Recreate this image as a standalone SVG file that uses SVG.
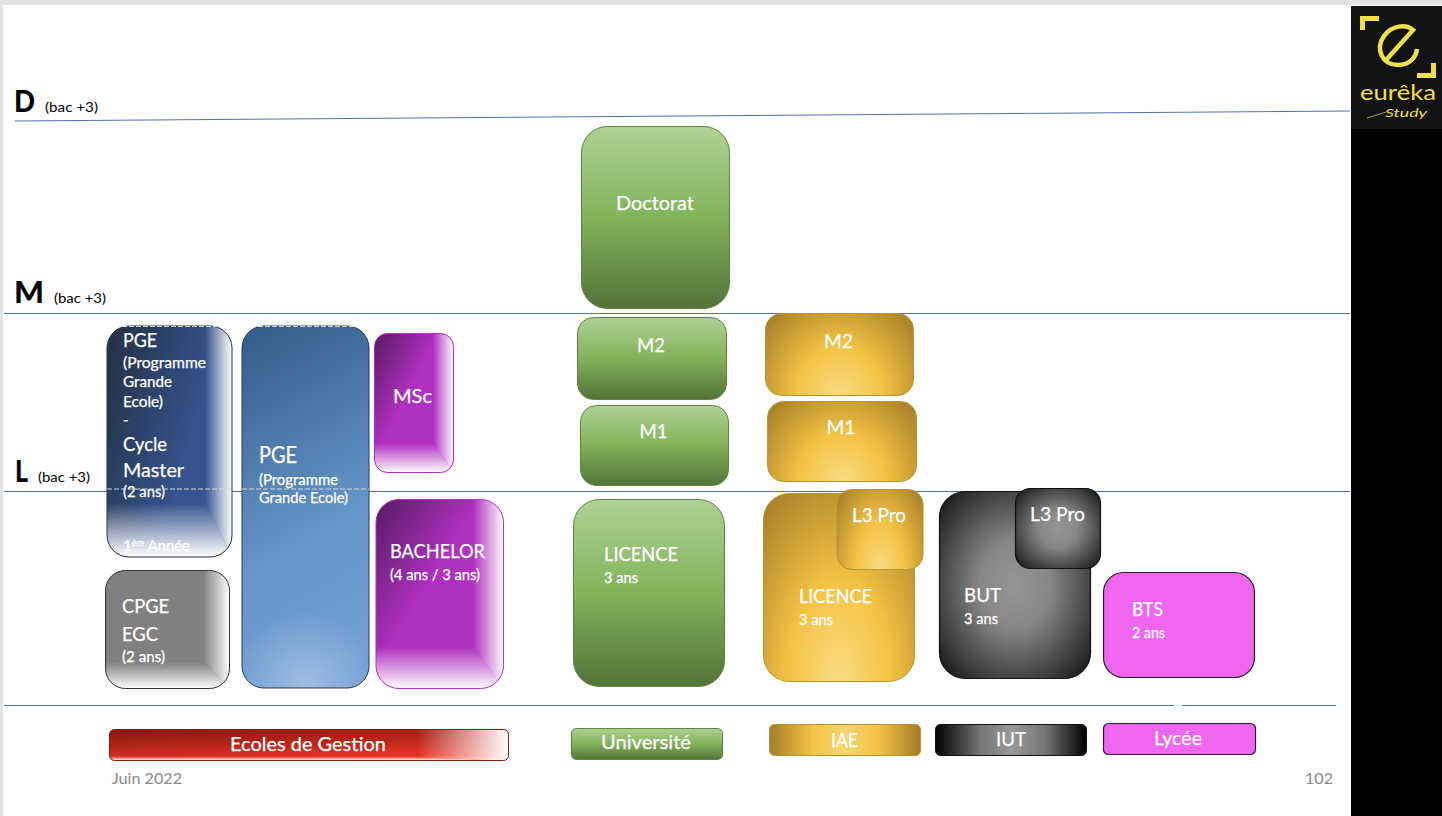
<svg xmlns="http://www.w3.org/2000/svg" width="1442" height="816" viewBox="0 0 1442 816">
<style>
text{font-family:Lato,"Open Sans","Liberation Sans",sans-serif;fill:#fff;stroke:#fff;stroke-width:.25px}
.k{fill:#000;stroke:none}
.b{font-size:31px;font-weight:900}
.s{font-size:14px}
.m{font-size:15px}
.f{font-size:16px;fill:#8a8a8a;stroke:none}
.y{fill:#f4df4b;stroke:none}
.rule{stroke:#5470ad;stroke-width:1;fill:none}
.dash{stroke:#cfdae8;stroke-width:1.2;stroke-dasharray:5 2;fill:none}
.gold{fill:url(#gold);stroke:#b8952f;stroke-width:1}
.goldw{fill:url(#goldw);stroke:#b8952f;stroke-width:1}
.green{fill:url(#green);stroke:#5f8440;stroke-width:1}
.grey{fill:url(#grey);stroke:#111;stroke-width:1.2}
.pink{fill:#ef67ee;stroke:#222;stroke-width:1.2}
.fr{fill:url(#fr)}
.fb{fill:url(#fb)}
</style>
<defs>
<linearGradient id="green" x1="0" y1="0" x2="0" y2="1"><stop offset="0" stop-color="#b0d196"/><stop offset=".48" stop-color="#84b45c"/><stop offset="1" stop-color="#547339"/></linearGradient>
<radialGradient id="gold" cx=".5" cy="1" r="1" gradientTransform="translate(.5 1) scale(.8 1.25) translate(-.5 -1)"><stop offset="0" stop-color="#f8dc82"/><stop offset=".42" stop-color="#f5c345"/><stop offset="1" stop-color="#a27c27"/></radialGradient>
<radialGradient id="goldw" cx=".5" cy="1" r="1" gradientTransform="translate(.5 1) scale(.68 1.4) translate(-.5 -1)"><stop offset="0" stop-color="#f8dc82"/><stop offset=".42" stop-color="#f5c345"/><stop offset="1" stop-color="#a27c27"/></radialGradient>
<radialGradient id="grey" cx=".5" cy=".5" r=".68"><stop offset="0" stop-color="#969696"/><stop offset=".35" stop-color="#868686"/><stop offset="1" stop-color="#161616"/></radialGradient>
<linearGradient id="iae" x1="0" y1="0" x2="1" y2="0"><stop offset="0" stop-color="#a27c27"/><stop offset=".28" stop-color="#f5c345"/><stop offset=".5" stop-color="#f7d670"/><stop offset=".72" stop-color="#f5c345"/><stop offset="1" stop-color="#a27c27"/></linearGradient>
<linearGradient id="iut" x1="0" y1="0" x2="1" y2="0"><stop offset="0" stop-color="#000"/><stop offset=".3" stop-color="#777"/><stop offset=".5" stop-color="#989898"/><stop offset=".72" stop-color="#777"/><stop offset="1" stop-color="#000"/></linearGradient>
<linearGradient id="pge2" x1=".35" y1="0" x2=".55" y2="1"><stop offset="0" stop-color="#38608f"/><stop offset=".6" stop-color="#6695c9"/><stop offset="1" stop-color="#74a0d4"/></linearGradient>
<radialGradient id="pge2h"><stop offset="0" stop-color="#a6c2e4" stop-opacity=".85"/><stop offset="1" stop-color="#a6c2e4" stop-opacity="0"/></radialGradient>
<linearGradient id="navy" x1="0" y1="0" x2=".75" y2=".4"><stop offset="0" stop-color="#242f42"/><stop offset="1" stop-color="#35548f"/></linearGradient>
<linearGradient id="purple" x1="0" y1="0" x2=".456" y2=".414"><stop offset="0" stop-color="#571a63"/><stop offset="1" stop-color="#b030c0"/></linearGradient>
<linearGradient id="red" x1="0" y1="0" x2="1" y2="0"><stop offset="0" stop-color="#8e1a10"/><stop offset=".72" stop-color="#e73323"/></linearGradient>
<linearGradient id="redv" x1="0" y1="0" x2="0" y2="1"><stop offset="0" stop-color="#7e150c" stop-opacity=".65"/><stop offset=".85" stop-color="#e73323" stop-opacity=".75"/><stop offset="1" stop-color="#f5a090" stop-opacity=".8"/></linearGradient>
<linearGradient id="fr" x1="0" y1="0" x2="1" y2="0"><stop offset="0" stop-color="#fff" stop-opacity="0"/><stop offset="1" stop-color="#fff"/></linearGradient>
<linearGradient id="fb" x1="0" y1="0" x2="0" y2="1"><stop offset="0" stop-color="#fff" stop-opacity="0"/><stop offset="1" stop-color="#fff"/></linearGradient>
<clipPath id="c1"><rect x="107" y="326" width="125" height="231" rx="22"/></clipPath>
<clipPath id="c2"><rect x="105.500" y="570.500" width="124" height="118" rx="20"/></clipPath>
<clipPath id="c3"><rect x="374.500" y="333.500" width="79" height="139" rx="13"/></clipPath>
<clipPath id="c4"><rect x="376" y="499.500" width="127.500" height="189" rx="23"/></clipPath>
<clipPath id="c5"><rect x="109.500" y="729.500" width="399" height="31" rx="5"/></clipPath>
<clipPath id="c6"><rect x="242" y="326" width="127" height="362" rx="22"/></clipPath>
</defs>

<rect x="0" y="0" width="1442" height="816" fill="#fff"/>
<rect x="0" y="0" width="1442" height="5" fill="#e2e2e2"/>
<rect x="0" y="0" width="3" height="816" fill="#e2e2e2"/>
<rect x="1351" y="6" width="91" height="810" fill="#000"/>

<g id="connectors">
<line class="rule" x1="15" y1="121" x2="1350" y2="111"/>
<line class="rule" x1="4" y1="313.500" x2="1350" y2="313.500"/>
<line class="rule" x1="4" y1="491.500" x2="1350" y2="491.500"/>
<line class="rule" x1="4" y1="705.500" x2="1336" y2="705.500"/>
<line x1="1174" y1="705.500" x2="1182" y2="705.500" stroke="#e8ecf5" stroke-width="2"/>
</g>

<g id="levels">
<text class="k b" x="14" y="112" textLength="21" lengthAdjust="spacingAndGlyphs">D</text><text class="k s" x="45" y="112" textLength="53" lengthAdjust="spacingAndGlyphs">(bac +3)</text>
<text class="k b" x="14" y="303" textLength="30" lengthAdjust="spacingAndGlyphs">M</text><text class="k s" x="54" y="303" textLength="52" lengthAdjust="spacingAndGlyphs">(bac +3)</text>
<text class="k b" x="15" y="482" textLength="13" lengthAdjust="spacingAndGlyphs">L</text><text class="k s" x="38" y="482" textLength="52" lengthAdjust="spacingAndGlyphs">(bac +3)</text>
</g>

<g id="pge-cycle">
<rect x="107" y="326" width="125" height="231" rx="22" fill="url(#navy)"/>
<g clip-path="url(#c1)">
<polygon class="fr" points="205,326 232,326 232,557 205,503"/>
<polygon class="fb" points="107,503 205,503 232,557 107,557"/>
</g>
<rect x="107" y="326" width="125" height="231" rx="22" fill="none" stroke="#2a2f3a" stroke-width="1"/>
<text x="123" y="347" font-size="20" textLength="34" lengthAdjust="spacingAndGlyphs">PGE</text>
<text x="123" y="367.500" class="m" textLength="83" lengthAdjust="spacingAndGlyphs">(Programme</text>
<text x="123" y="387" class="m" textLength="49" lengthAdjust="spacingAndGlyphs">Grande</text>
<text x="123" y="407" class="m" textLength="40" lengthAdjust="spacingAndGlyphs">Ecole)</text>
<text x="123" y="425" class="m">-</text>
<text x="123" y="451" font-size="20" textLength="44" lengthAdjust="spacingAndGlyphs">Cycle</text>
<text x="123" y="477" font-size="20" textLength="61" lengthAdjust="spacingAndGlyphs">Master</text>
<text x="123" y="497" class="m" textLength="42" lengthAdjust="spacingAndGlyphs">(2 ans)</text>
<text x="123" y="551" class="m" textLength="67" lengthAdjust="spacingAndGlyphs">1<tspan font-size="9" dy="-5">ère</tspan><tspan dy="5"> Année</tspan></text>
</g>

<g id="pge">
<rect x="242" y="326" width="127" height="362" rx="22" fill="url(#pge2)"/>
<g clip-path="url(#c6)"><ellipse cx="305" cy="684" rx="72" ry="72" fill="url(#pge2h)"/></g>
<rect x="242" y="326" width="127" height="362" rx="22" fill="none" stroke="#2a3a50" stroke-width="1"/>
<text x="259" y="463" font-size="23" textLength="38" lengthAdjust="spacingAndGlyphs">PGE</text>
<text x="259" y="485" class="m" textLength="79" lengthAdjust="spacingAndGlyphs">(Programme</text>
<text x="259" y="503" class="m" textLength="89" lengthAdjust="spacingAndGlyphs">Grande Ecole)</text>
</g>

<g id="dashes">
<line class="dash" x1="122" y1="326.500" x2="218" y2="326.500"/>
<line class="dash" x1="258" y1="326.500" x2="354" y2="326.500"/>
<line class="dash" x1="107" y1="489" x2="232" y2="489"/>
<line class="dash" x1="242" y1="489" x2="369" y2="489"/>
</g>

<g id="msc">
<rect x="374.500" y="333.500" width="79" height="139" rx="13" fill="url(#purple)"/>
<g clip-path="url(#c3)">
<polygon class="fr" points="433,333 454,333 454,473 433,443"/>
<polygon class="fb" points="374,443 433,443 454,473 374,473"/>
</g>
<rect x="374.500" y="333.500" width="79" height="139" rx="13" fill="none" stroke="#b030c0" stroke-width="1"/>
<text x="393" y="403" font-size="20" textLength="39" lengthAdjust="spacingAndGlyphs">MSc</text>
</g>

<g id="bachelor">
<rect x="376" y="499.500" width="127.500" height="189" rx="23" fill="url(#purple)"/>
<g clip-path="url(#c4)">
<polygon class="fr" points="473,499 504,499 504,689 473,647"/>
<polygon class="fb" points="376,647 473,647 504,689 376,689"/>
</g>
<rect x="376" y="499.500" width="127.500" height="189" rx="23" fill="none" stroke="#b030c0" stroke-width="1"/>
<text x="390" y="558" font-size="20" textLength="95" lengthAdjust="spacingAndGlyphs">BACHELOR</text>
<text x="390" y="580" class="m" textLength="90" lengthAdjust="spacingAndGlyphs">(4 ans / 3 ans)</text>
</g>

<g id="cpge">
<rect x="105.500" y="570.500" width="124" height="118" rx="20" fill="#808080"/>
<g clip-path="url(#c2)">
<polygon class="fr" points="203,570 230,570 230,689 203,662"/>
<polygon class="fb" points="105,662 203,662 230,689 105,689"/>
</g>
<rect x="105.500" y="570.500" width="124" height="118" rx="20" fill="none" stroke="#333" stroke-width="1"/>
<text x="122" y="613" font-size="20" textLength="47" lengthAdjust="spacingAndGlyphs">CPGE</text>
<text x="122" y="641" font-size="20" textLength="36" lengthAdjust="spacingAndGlyphs">EGC</text>
<text x="122" y="662" class="m" textLength="43" lengthAdjust="spacingAndGlyphs">(2 ans)</text>
</g>

<g id="doctorat"><rect class="green" x="581.500" y="126.500" width="148" height="182" rx="26"/><text x="616" y="210" font-size="20" textLength="78" lengthAdjust="spacingAndGlyphs">Doctorat</text></g>
<g id="m2-univ"><rect class="green" x="577.500" y="317.500" width="149" height="82" rx="16"/><text x="637" y="352" font-size="20" textLength="28" lengthAdjust="spacingAndGlyphs">M2</text></g>
<g id="m1-univ"><rect class="green" x="580.500" y="405.500" width="148" height="80" rx="16"/><text x="639.500" y="438" font-size="20" textLength="28" lengthAdjust="spacingAndGlyphs">M1</text></g>
<g id="licence-univ"><rect class="green" x="573.500" y="499.500" width="151" height="187" rx="26"/><text x="604" y="561" font-size="20" textLength="74" lengthAdjust="spacingAndGlyphs">LICENCE</text><text x="604" y="583" class="m" textLength="34" lengthAdjust="spacingAndGlyphs">3 ans</text></g>

<g id="m2-iae"><rect class="goldw" x="765.500" y="313.500" width="148" height="82" rx="16"/><text x="824" y="348" font-size="20" textLength="29" lengthAdjust="spacingAndGlyphs">M2</text></g>
<g id="m1-iae"><rect class="goldw" x="767.500" y="401.500" width="149" height="80" rx="16"/><text x="826.500" y="434" font-size="20" textLength="29" lengthAdjust="spacingAndGlyphs">M1</text></g>
<g id="licence-iae"><rect class="gold" x="763.500" y="493.500" width="151" height="188" rx="26"/><text x="799" y="603" font-size="20" textLength="73" lengthAdjust="spacingAndGlyphs">LICENCE</text><text x="799" y="625" class="m" textLength="34" lengthAdjust="spacingAndGlyphs">3 ans</text></g>
<g id="l3pro-iae"><rect class="goldw" x="837" y="489.500" width="86" height="80" rx="15"/><text x="852" y="522" font-size="20" textLength="54" lengthAdjust="spacingAndGlyphs">L3 Pro</text></g>

<g id="but"><rect class="grey" x="939.500" y="491.500" width="151" height="187" rx="26"/><text x="964" y="602" font-size="20" textLength="37" lengthAdjust="spacingAndGlyphs">BUT</text><text x="964" y="624" class="m" textLength="34" lengthAdjust="spacingAndGlyphs">3 ans</text></g>
<g id="l3pro-iut"><rect class="grey" x="1015.500" y="488.500" width="85" height="80" rx="15"/><text x="1030" y="521" font-size="20" textLength="55" lengthAdjust="spacingAndGlyphs">L3 Pro</text></g>
<g id="bts"><rect class="pink" x="1103.500" y="572.500" width="151" height="105" rx="20"/><text x="1132" y="616" font-size="20" textLength="31" lengthAdjust="spacingAndGlyphs">BTS</text><text x="1132" y="638" class="m" textLength="33" lengthAdjust="spacingAndGlyphs">2 ans</text></g>

<g id="legend-ecoles">
<rect x="109.500" y="729.500" width="399" height="31" rx="5" fill="url(#red)"/>
<g clip-path="url(#c5)">
<rect x="109.500" y="729.500" width="399" height="31" fill="url(#redv)"/>
<polygon class="fr" points="417,729 509,729 509,761 417,757"/>
<polygon class="fb" points="109,757 417,757 509,761 109,761"/>
</g>
<rect x="109.500" y="729.500" width="399" height="31" rx="5" fill="none" stroke="#8a1a12" stroke-width="1"/>
<text x="230" y="751" font-size="20" textLength="156" lengthAdjust="spacingAndGlyphs">Ecoles de Gestion</text>
</g>
<g id="legend-universite"><rect class="green" x="571.500" y="728.500" width="151" height="31" rx="5"/><text x="601" y="749" font-size="20" textLength="90" lengthAdjust="spacingAndGlyphs">Université</text></g>
<g id="legend-iae"><rect x="769.500" y="724.500" width="151" height="31" rx="5" fill="url(#iae)" stroke="#b8952f"/><text x="831" y="747" font-size="20" textLength="27" lengthAdjust="spacingAndGlyphs">IAE</text></g>
<g id="legend-iut"><rect x="935.500" y="724.500" width="151" height="31" rx="5" fill="url(#iut)" stroke="#111"/><text x="996" y="746" font-size="20" textLength="30" lengthAdjust="spacingAndGlyphs">IUT</text></g>
<g id="legend-lycee"><rect class="pink" x="1103.500" y="723.500" width="152" height="31" rx="5"/><text x="1154" y="745" font-size="20" textLength="48" lengthAdjust="spacingAndGlyphs">Lycée</text></g>

<g id="footer">
<text class="f" x="112" y="784" textLength="70" lengthAdjust="spacingAndGlyphs">Juin 2022</text>
<text class="f" x="1305" y="784" textLength="28" lengthAdjust="spacingAndGlyphs">102</text>
</g>

<g id="logo">
<rect x="1351" y="6" width="91" height="123" fill="#101312"/>
<polygon points="1360,16 1379,16 1379,21 1365,21 1365,30 1360,30" fill="#f4df4b"/>
<polygon points="1436,63 1436,78 1417,78 1417,73 1431,73 1431,63" fill="#f4df4b"/>
<path d="M1387,59 L1413,30 C1406,24 1392,25 1384,36 C1375,49 1382,65 1398,65 C1409,65 1416,58 1417,49" fill="none" stroke="#f4df4b" stroke-width="4.500"/>
<text class="y" x="1360" y="100" font-size="22" textLength="76" lengthAdjust="spacingAndGlyphs">eurêka</text>
<text class="y" x="1385" y="117" font-size="11" font-style="italic" textLength="42" lengthAdjust="spacingAndGlyphs">Study</text>
<line x1="1367" y1="118" x2="1386" y2="112" stroke="#a8982f" stroke-width="1"/>
</g>
</svg>
